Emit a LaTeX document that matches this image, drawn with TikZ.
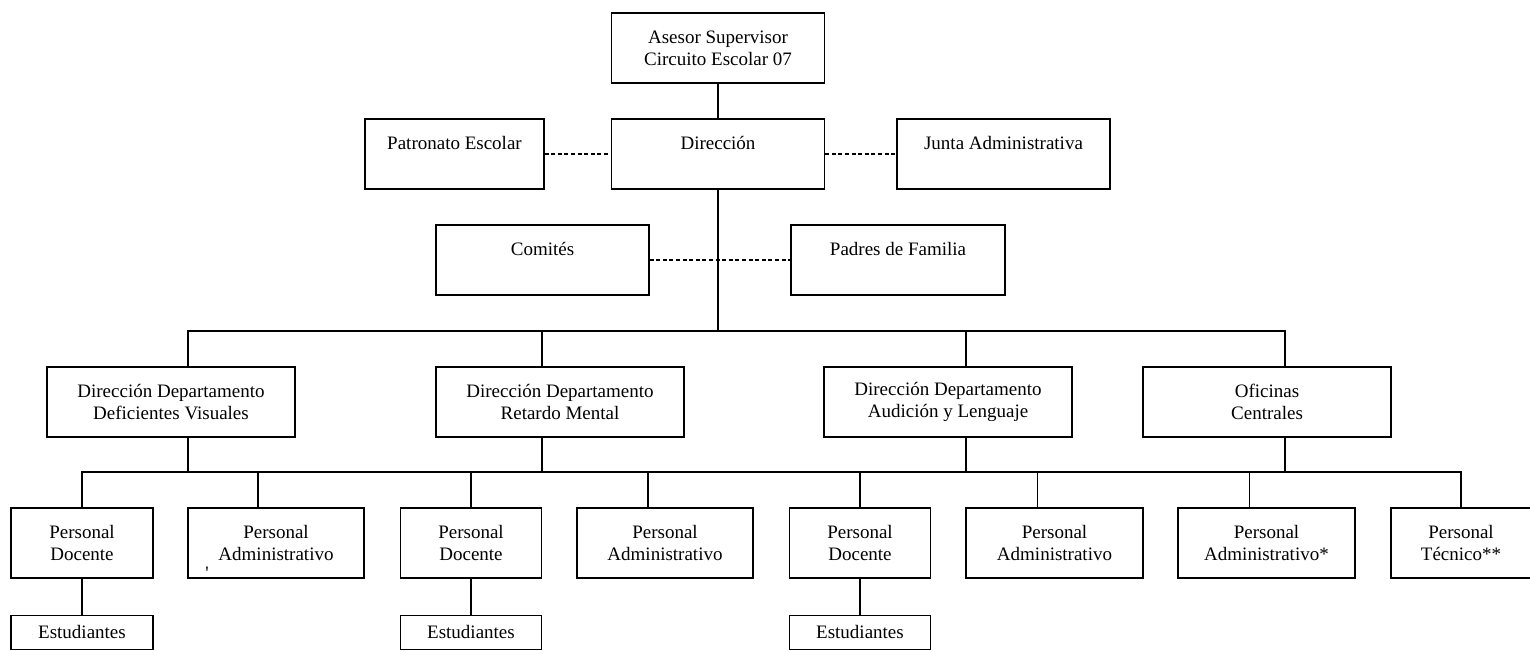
\documentclass[tikz,border=0pt]{standalone}
\usepackage{fontspec}
\setmainfont{Liberation Serif}
\usepackage{tikz}
\usetikzlibrary{positioning}

\begin{document}
\begin{tikzpicture}[x=1pt,y=-1pt,line width=1.3pt,line cap=rect,node distance=36pt]
  \tikzstyle{box}=[draw=black,rectangle,align=center,inner sep=0pt,minimum height=70pt,
                   font=\fontsize{19}{21.7}\selectfont]
  \tikzstyle{link}=[line cap=butt,dash pattern=on 4pt off 2.6pt]

  \useasboundingbox (0,0) rectangle (1530,650);

  \node[box, minimum width=213pt] (Asesor)    at (718,48)     {Asesor Supervisor\\Circuito Escolar 07};
  \node[box, minimum width=213pt] (Dir)       at (718,154)    {Dirección\\~};
  \node[box, minimum width=179pt] (Patronato) at (454.5,154)  {Patronato Escolar\\~};
  \node[box, minimum width=213pt] (Junta)     at (1003.5,154) {Junta Administrativa\\~};
  \node[box, minimum width=213pt] (Comites)   at (542.5,260)  {Comités\\~};
  \node[box, minimum width=214pt] (Padres)    at (898,260)    {Padres de Familia\\~};

  \node[box, minimum width=248pt] (DV) at (171,402)  {Dirección Departamento\\Deficientes Visuales};
  \node[box, minimum width=248pt] (RM) at (560,402)  {Dirección Departamento\\Retardo Mental};
  \node[box, minimum width=248pt] (AL) at (948,402)  {Dirección Departamento\\Audición y Lenguaje};
  \node[box, minimum width=248pt] (OC) at (1267,402) {Oficinas\\Centrales};

  \node[box, minimum width=142pt] (PD1)  at (82,543)     {Personal\\Docente};
  \node[box, minimum width=176pt] (PA1)  at (276,543)    {Personal\\Administrativo};
  \node[box, minimum width=141pt] (PD2)  at (471,543)    {Personal\\Docente};
  \node[box, minimum width=176pt] (PA2)  at (665,543)    {Personal\\Administrativo};
  \node[box, minimum width=141pt] (PD3)  at (860,543)    {Personal\\Docente};
  \node[box, minimum width=177pt] (PA3)  at (1054.5,543) {Personal\\Administrativo};
  \node[box, minimum width=177pt] (PAst) at (1266.5,543) {Personal\\Administrativo*};
  \node[box, minimum width=140pt] (PT)   at (1461,543)   {Personal\\Técnico**};

  \node[box, minimum width=142pt, minimum height=34pt] (E1) [below=of PD1] {Estudiantes};
  \node[box, minimum width=141pt, minimum height=34pt] (E2) [below=of PD2] {Estudiantes};
  \node[box, minimum width=141pt, minimum height=34pt] (E3) [below=of PD3] {Estudiantes};

  \node[inner sep=0pt, font=\fontsize{19}{19}\selectfont] (tick) at (207,573) {\textquotesingle};

  \coordinate (bus1) at (718,331);
  \coordinate (bus2) at (82,472);

  \path (Asesor) edge (Dir)
        (Patronato) edge[link] (Dir)
        (Dir) edge[link] (Junta)
        (Comites) edge[link] (Padres)
        (PD1) edge (E1)
        (PD2) edge (E2)
        (PD3) edge (E3);

  \draw (Dir) -- (bus1);
  \draw ([xshift=17pt]DV.north |- bus1) -- ([xshift=18pt]OC.north |- bus1);
  \foreach \d/\s in {DV/17,RM/-18,AL/18,OC/18} {
    \draw ([xshift=\s pt]\d.north) -- ([xshift=\s pt]\d.north |- bus1);
    \draw ([xshift=\s pt]\d.south) -- ([xshift=\s pt]\d.south |- bus2);
  }
  \draw (PD1.north |- bus2) -- (PT.north |- bus2);
  \foreach \p/\s in {PD1/0,PA1/-18,PD2/0,PA2/-17,PD3/0,PA3/-17,PAst/-17,PT/0}
    \draw ([xshift=\s pt]\p.north) -- ([xshift=\s pt]\p.north |- bus2);
\end{tikzpicture}
\end{document}
